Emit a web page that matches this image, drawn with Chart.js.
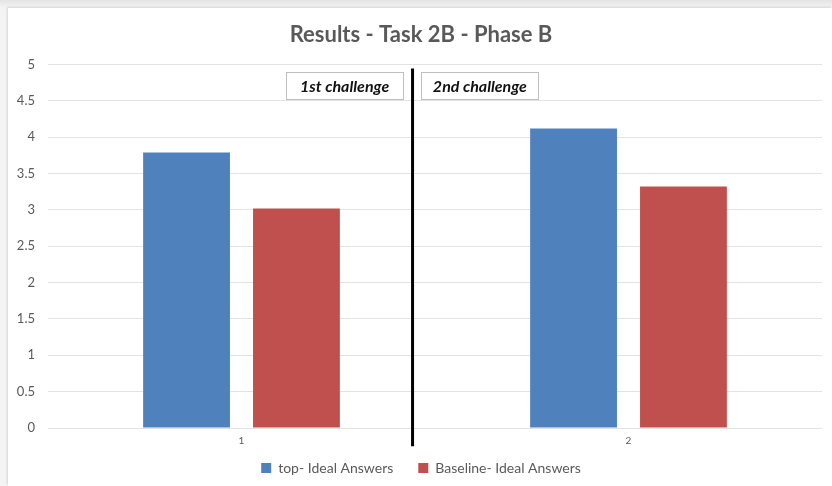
<!DOCTYPE html>
<html>
<head>
<meta charset="utf-8">
<script src="https://cdn.jsdelivr.net/npm/chart.js@4.4.0/dist/chart.umd.min.js"></script>
<style>
  html, body { margin: 0; padding: 0; }
  body { width: 832px; height: 486px; background: linear-gradient(#e4e4e4, #f4f4f4 8px); position: relative; overflow: hidden; }
  #wrap { position: absolute; left: 8px; top: 8px; width: 824px; height: 478px; background: #fff; box-shadow: -1px -1px 2px rgba(0,0,0,0.12); }
  canvas { display: block; }
</style>
</head>
<body>
<div id="wrap"><canvas id="c" width="824" height="478"></canvas></div>
<script>
const categories = ['1', '2'];
const topIdeal = [3.79, 4.12];
const baselineIdeal = [3.02, 3.32];
const seriesNames = ['top- Ideal Answers', 'Baseline- Ideal Answers'];
const yTicks = [0, 0.5, 1, 1.5, 2, 2.5, 3, 3.5, 4, 4.5, 5];
const annotations = ['1st challenge', '2nd challenge'];

const overlay = {
  id: 'overlay',
  afterDatasetsDraw(chart) {
    const ctx = chart.ctx;
    const x = chart.scales.x, y = chart.scales.y;
    const lx = x.getPixelForValue(0.442);
    ctx.save();
    ctx.strokeStyle = '#000';
    ctx.lineWidth = 3;
    ctx.beginPath();
    ctx.moveTo(lx, y.getPixelForValue(4.945));
    ctx.lineTo(lx, y.getPixelForValue(-0.25));
    ctx.stroke();
    const boxes = [[0.115, 0.418], [0.465, 0.767]];
    const top = y.getPixelForValue(4.89), bot = y.getPixelForValue(4.525);
    ctx.font = 'italic bold 16px Lato, "Open Sans", sans-serif';
    ctx.textAlign = 'center';
    ctx.textBaseline = 'middle';
    boxes.forEach((b, i) => {
      const x0 = x.getPixelForValue(b[0]), x1 = x.getPixelForValue(b[1]);
      ctx.fillStyle = '#fff';
      ctx.fillRect(x0, top, x1 - x0, bot - top);
      ctx.strokeStyle = '#bfbfbf';
      ctx.lineWidth = 1;
      ctx.strokeRect(Math.round(x0) + 0.5, Math.round(top) + 0.5, Math.round(x1 - x0), Math.round(bot - top));
      ctx.fillStyle = '#111';
      ctx.fillText(annotations[i], (x0 + x1) / 2, (top + bot) / 2 + 1);
    });
    ctx.restore();
  }
};

new Chart(document.getElementById('c'), {
  type: 'bar',
  data: {
    labels: categories,
    datasets: [
      { label: seriesNames[0], data: topIdeal, backgroundColor: '#4F81BD', borderWidth: 0, categoryPercentage: 0.568, barPercentage: 0.79 },
      { label: seriesNames[1], data: baselineIdeal, backgroundColor: '#C0504D', borderWidth: 0, categoryPercentage: 0.568, barPercentage: 0.79 }
    ]
  },
  options: {
    responsive: false,
    animation: false,
    layout: { padding: { left: 12, right: 10, top: 0, bottom: 1 } },
    plugins: {
      title: {
        display: true,
        text: 'Results - Task 2B - Phase B',
        color: '#595959',
        font: { family: 'Lato, "Open Sans", sans-serif', size: 22, weight: 'bold' },
        padding: { top: 14, bottom: 16 }
      },
      legend: {
        position: 'bottom',
        labels: {
          color: '#595959',
          font: { family: 'Lato, "Open Sans", sans-serif', size: 14 },
          boxWidth: 10, boxHeight: 10, padding: 25
        }
      },
      tooltip: { enabled: false }
    },
    scales: {
      x: {
        afterFit(axis) { axis.height = 8; axis._computeLabelArea = () => undefined; },
        grid: { display: false, drawTicks: false },
        border: { display: false },
        ticks: { color: '#595959', font: { family: 'Lato, sans-serif', size: 10, lineHeight: 1 }, padding: 8 }
      },
      y: {
        min: 0, max: 5,
        afterBuildTicks(axis) { axis.ticks = yTicks.map(v => ({ value: v })); },
        afterFit(axis) { axis.width = 28; axis._computeLabelArea = () => undefined; },
        grid: { color: '#e3e3e3', drawTicks: false },
        border: { display: false },
        ticks: {
          color: '#595959', font: { family: 'Lato, sans-serif', size: 13 }, padding: 13,
          callback: (v) => String(v)
        }
      }
    }
  },
  plugins: [overlay]
});
</script>
</body>
</html>
